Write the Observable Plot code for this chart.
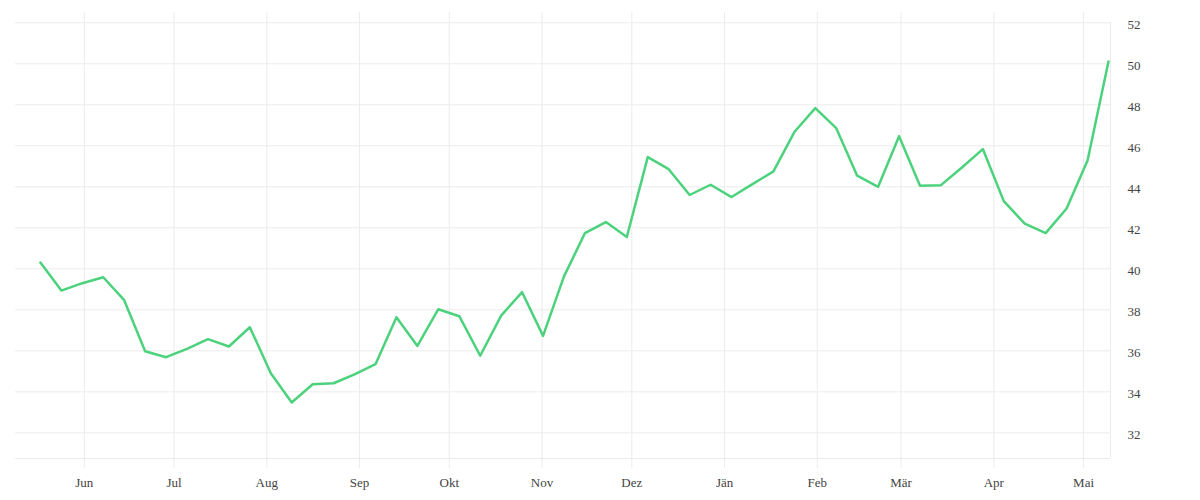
<!DOCTYPE html>
<html>
<head>
<meta charset="utf-8">
<script src="https://cdn.jsdelivr.net/npm/d3@7"></script>
<script src="https://cdn.jsdelivr.net/npm/@observablehq/plot@0.6"></script>
<style>
  html, body { margin: 0; padding: 0; background: #fff; }
  #chart { width: 1200px; height: 500px; }
</style>
</head>
<body>
<div id="chart"></div>
<script>
// Weekly observations
const dates = [
  "2022-05-18","2022-05-25","2022-06-01","2022-06-08","2022-06-15","2022-06-22","2022-06-29",
  "2022-07-06","2022-07-13","2022-07-20","2022-07-27","2022-08-03","2022-08-10","2022-08-17",
  "2022-08-24","2022-08-31","2022-09-07","2022-09-14","2022-09-21","2022-09-28","2022-10-05",
  "2022-10-12","2022-10-19","2022-10-26","2022-11-02","2022-11-09","2022-11-16","2022-11-23",
  "2022-11-30","2022-12-07","2022-12-14","2022-12-21","2022-12-28","2023-01-04","2023-01-11",
  "2023-01-18","2023-01-25","2023-02-01","2023-02-08","2023-02-15","2023-02-22","2023-03-01",
  "2023-03-08","2023-03-15","2023-03-22","2023-03-29","2023-04-05","2023-04-12","2023-04-19",
  "2023-04-26","2023-05-03","2023-05-10"
];
const values = [
  40.31, 38.94, 39.30, 39.59, 38.47, 35.98, 35.69,
  36.10, 36.57, 36.21, 37.15, 34.91, 33.48, 34.37,
  34.42, 34.85, 35.35, 37.64, 36.24, 38.03, 37.69,
  35.76, 37.72, 38.86, 36.73, 39.63, 41.74, 42.28,
  41.55, 45.45, 44.86, 43.60, 44.10, 43.50, 44.13,
  44.75, 46.67, 47.84, 46.86, 44.54, 44.00, 46.47,
  44.05, 44.08, 44.94, 45.84, 43.30, 42.20, 41.74,
  42.94, 45.28, 50.11
];
// Axis ticks
const monthTicks = [
  "2022-06-01","2022-07-01","2022-08-01","2022-09-01","2022-10-01","2022-11-01",
  "2022-12-01","2023-01-01","2023-02-01","2023-03-01","2023-04-01","2023-05-01"
];
const monthLabels = ["Jun","Jul","Aug","Sep","Okt","Nov","Dez","Jän","Feb","Mär","Apr","Mai"];
const yTicks = [32, 34, 36, 38, 40, 42, 44, 46, 48, 50, 52];
const xDomain = ["2022-05-09", "2023-05-10"];
const yDomain = [30.75, 52.5];

const parse = d3.utcParse("%Y-%m-%d");
const data = dates.map((d, i) => ({date: parse(d), value: values[i]}));
const tickDates = monthTicks.map(parse);
const labelOf = new Map(tickDates.map((d, i) => [+d, monthLabels[i]]));

const grid = "#ececec";

const chart = Plot.plot({
  width: 1200,
  height: 500,
  marginLeft: 15,
  marginRight: 90,
  marginTop: 12,
  marginBottom: 42,
  style: {fontFamily: "'Liberation Serif', serif", fontSize: "13px", color: "#444", background: "#fff"},
  x: {type: "utc", domain: xDomain.map(parse)},
  y: {domain: yDomain},
  marks: [
    Plot.gridY(yTicks, {stroke: grid, strokeOpacity: 1}),
    Plot.gridX(tickDates, {stroke: grid, strokeOpacity: 1}),
    Plot.ruleX([parse(xDomain[1])], {stroke: grid, y1: yDomain[0], y2: yDomain[1], insetBottom: -10}),
    Plot.ruleY([yDomain[0]], {stroke: grid}),
    Plot.axisX(tickDates, {
      tickSize: 10, tickPadding: 9, stroke: grid, strokeOpacity: 1,
      tickFormat: d => labelOf.get(+d), fill: "#444", label: null
    }),
    Plot.axisY(yTicks, {
      anchor: "right", tickSize: 0, tickPadding: 17, dy: 2, fill: "#444", label: null
    }),
    Plot.line(data, {x: "date", y: "value", stroke: "#4cd27c", strokeWidth: 2.5, dx: -2})
  ]
});
document.getElementById("chart").appendChild(chart);
</script>
</body>
</html>
